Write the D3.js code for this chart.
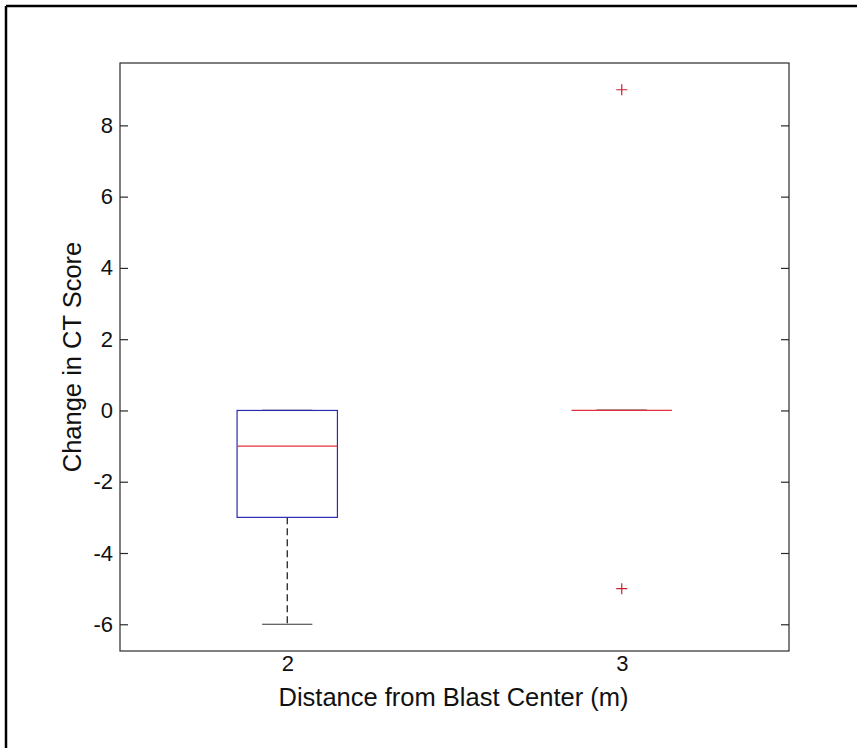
<!DOCTYPE html>
<html>
<head>
<meta charset="utf-8">
<script src="https://cdn.jsdelivr.net/npm/d3@7"></script>
<style>
  html, body { margin: 0; padding: 0; background: #fff; }
  svg { display: block; }
  text { font-family: Arial, "Liberation Sans", sans-serif; fill: #111; }
</style>
</head>
<body>
<svg id="chart" width="857" height="748"></svg>
<script>
// ---- data ----
const categories = ["2", "3"];
const q1 = [-3, 0];
const medians = [-1, 0];
const q3 = [0, 0];
const whiskerLow = [-6, 0];
const whiskerHigh = [0, 0];
const outliers = [[], [9, -5]];
const yTicks = [-6, -4, -2, 0, 2, 4, 6, 8];
const yDomain = [-6.75, 9.75];
const xLabel = "Distance from Blast Center (m)";
const yLabel = "Change in CT Score";

// ---- layout ----
const svg = d3.select("#chart");
const plot = { left: 120, top: 63, right: 789, bottom: 651 };
const tickFont = 22;
const labelFont = 25.5;
const fontFam = "Arial, 'Liberation Sans', sans-serif";

const x = d3.scalePoint().domain(categories).range([plot.left, plot.right]).padding(0.5);
const step = x.step();
const y = d3.scaleLinear().domain(yDomain).range([plot.bottom, plot.top]);

// outer frame (cropped figure border: left and top only)
svg.append("line").attr("x1", 6).attr("x2", 6).attr("y1", 6).attr("y2", 748)
  .attr("stroke", "#000").attr("stroke-width", 2.5);
svg.append("line").attr("x1", 6).attr("x2", 857).attr("y1", 6).attr("y2", 6)
  .attr("stroke", "#000").attr("stroke-width", 2.5);

// axes box
svg.append("rect")
  .attr("x", plot.left).attr("y", plot.top)
  .attr("width", plot.right - plot.left).attr("height", plot.bottom - plot.top)
  .attr("fill", "none").attr("stroke", "#2a2a2a").attr("stroke-width", 1.2);

// left axis (inward ticks)
const yAxisL = d3.axisLeft(y).tickValues(yTicks).tickSize(-8).tickPadding(7).tickFormat(d => String(d));
const gL = svg.append("g").attr("transform", `translate(${plot.left},0)`).call(yAxisL);
gL.select(".domain").remove();
gL.selectAll("line").attr("stroke", "#2a2a2a").attr("stroke-width", 1.2);
gL.selectAll("text").attr("font-size", tickFont).style("font-family", fontFam).attr("fill", "#111");

// right axis mirrored ticks
const yAxisR = d3.axisRight(y).tickValues(yTicks).tickSize(-8).tickFormat("");
const gR = svg.append("g").attr("transform", `translate(${plot.right},0)`).call(yAxisR);
gR.select(".domain").remove();
gR.selectAll("line").attr("stroke", "#2a2a2a").attr("stroke-width", 1.2);

// bottom axis labels (no ticks)
const xAxis = d3.axisBottom(x).tickSize(0).tickPadding(4);
const gB = svg.append("g").attr("transform", `translate(0,${plot.bottom})`).call(xAxis);
gB.select(".domain").remove();
gB.selectAll("text").attr("font-size", tickFont).style("font-family", fontFam).attr("fill", "#111");

// axis titles
svg.append("text")
  .attr("x", (plot.left + plot.right) / 2 - 1).attr("y", 706)
  .attr("text-anchor", "middle").attr("font-size", labelFont)
  .text(xLabel);
svg.append("text")
  .attr("transform", `translate(81,${(plot.top + plot.bottom) / 2}) rotate(-90)`)
  .attr("text-anchor", "middle").attr("font-size", labelFont)
  .text(yLabel);

// boxes
const boxW = step * 0.3;
const capW = boxW / 2;
const groups = svg.append("g");
categories.forEach((c, i) => {
  const cx = x(c);
  const g = groups.append("g");
  // whiskers (dashed)
  g.append("line").attr("x1", cx).attr("x2", cx).attr("y1", y(q1[i])).attr("y2", y(whiskerLow[i]))
    .attr("stroke", "#111").attr("stroke-width", 1.2).attr("stroke-dasharray", "7,4");
  g.append("line").attr("x1", cx).attr("x2", cx).attr("y1", y(q3[i])).attr("y2", y(whiskerHigh[i]))
    .attr("stroke", "#111").attr("stroke-width", 1.2).attr("stroke-dasharray", "7,4");
  // caps
  [whiskerLow[i], whiskerHigh[i]].forEach(v => {
    g.append("line").attr("x1", cx - capW / 2).attr("x2", cx + capW / 2)
      .attr("y1", y(v)).attr("y2", y(v)).attr("stroke", "#333").attr("stroke-width", 1.2);
  });
  // box
  g.append("rect").attr("x", cx - boxW / 2).attr("width", boxW)
    .attr("y", y(q3[i])).attr("height", y(q1[i]) - y(q3[i]))
    .attr("fill", "none").attr("stroke", "#2b2bb0").attr("stroke-width", 1.2);
  // median
  g.append("line").attr("x1", cx - boxW / 2).attr("x2", cx + boxW / 2)
    .attr("y1", y(medians[i])).attr("y2", y(medians[i]))
    .attr("stroke", "#e0303f").attr("stroke-width", 1.3);
  // outliers
  outliers[i].forEach(v => {
    const py = y(v);
    g.append("path").attr("d", `M${cx - 5.5},${py}H${cx + 5.5}M${cx},${py - 5.5}V${py + 5.5}`)
      .attr("stroke", "#c8202c").attr("stroke-width", 1.2).attr("fill", "none");
  });
});
</script>
</body>
</html>
